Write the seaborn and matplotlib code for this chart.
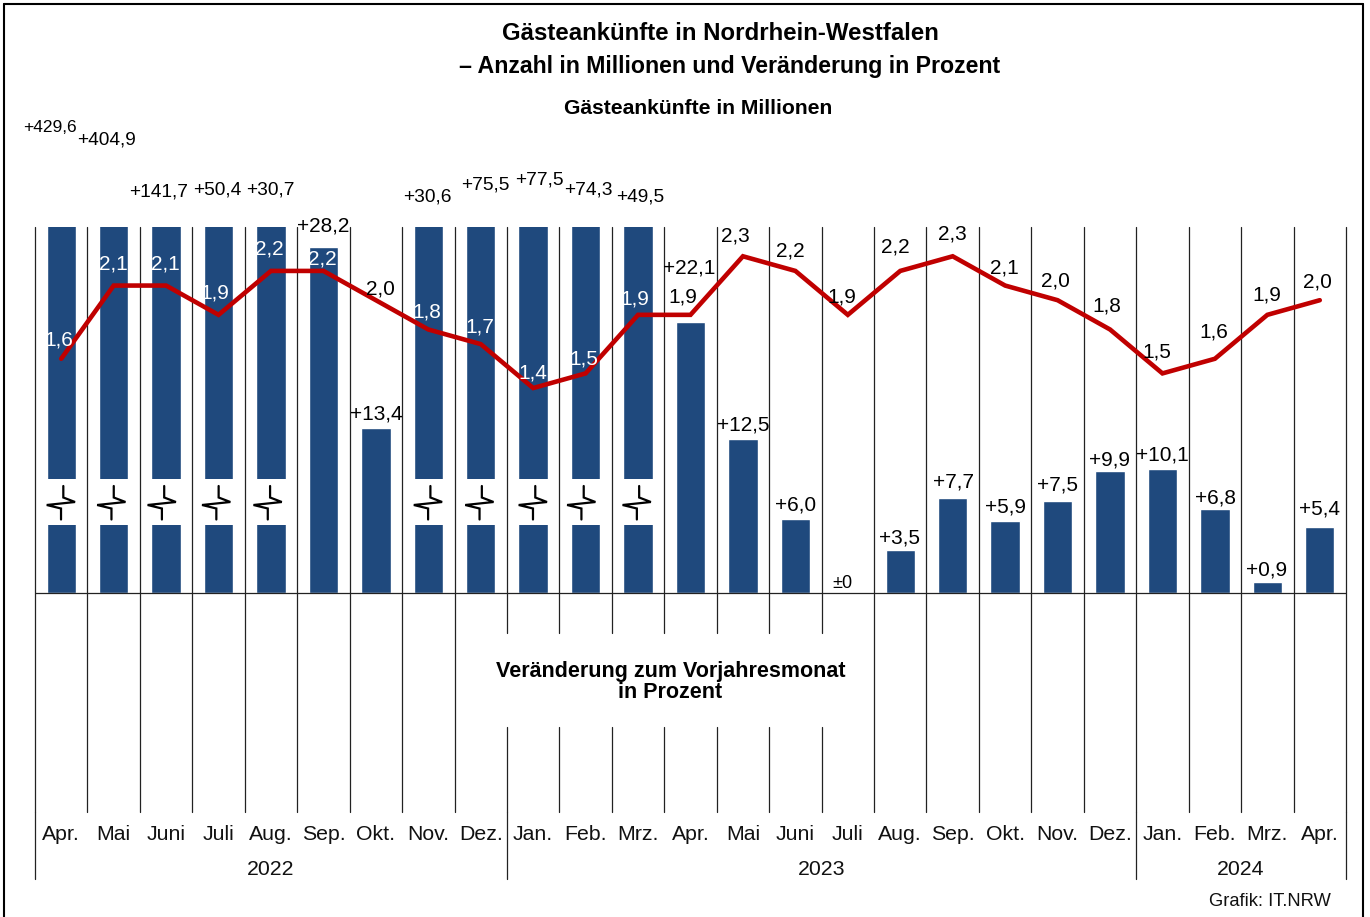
import numpy as np
import pandas as pd
import matplotlib
matplotlib.use("Agg")
import matplotlib.pyplot as plt
from matplotlib.lines import Line2D
from matplotlib.patches import Rectangle
import seaborn as sns

months = ["Apr.", "Mai", "Juni", "Juli", "Aug.", "Sep.", "Okt.", "Nov.", "Dez.",
          "Jan.", "Feb.", "Mrz.", "Apr.", "Mai", "Juni", "Juli", "Aug.", "Sep.",
          "Okt.", "Nov.", "Dez.", "Jan.", "Feb.", "Mrz.", "Apr."]
change_pct = [429.6, 404.9, 141.7, 50.4, 30.7, 28.2, 13.4, 30.6, 75.5, 77.5, 74.3, 49.5,
              22.1, 12.5, 6.0, 0.0, 3.5, 7.7, 5.9, 7.5, 9.9, 10.1, 6.8, 0.9, 5.4]
guests_mio = [1.6, 2.1, 2.1, 1.9, 2.2, 2.2, 2.0, 1.8, 1.7, 1.4, 1.5, 1.9,
              1.9, 2.3, 2.2, 1.9, 2.2, 2.3, 2.1, 2.0, 1.8, 1.5, 1.6, 1.9, 2.0]
years = ["2022", "2023", "2024"]
year_centers = [4, 14.5, 22.5]

# layout (pixels in the 1370x917 picture)
W, H = 1370, 917
AX_L, AX_R, AX_T, AX_B = 35, 1346, 227, 812
PCT_TOP, MIO_TOP = 29.8, 2.5
ZERO_PX = 593
PCT_PX = (ZERO_PX - AX_T) / PCT_TOP
bar_lab_x = [49.5, 106, 159, 217, 270, 323, 376, 427, 485, 539, 588, 640, 689, 743, 796, 842,
             900, 953, 1005, 1057, 1110, 1162, 1215, 1267, 1320]
bar_lab_y = [126, 138, 190, 188, 188, 224, 412, 195, 183, 178, 188, 195, 266, 423, 503, 581,
             536, 480, 505, 483, 458, 453, 496, 568, 507]
line_lab_x = [59, 113, 165, 215, 269, 322, 380, 427, 480, 533, 584, 635, 683, 735, 790, 842,
              895, 952, 1004, 1055, 1107, 1157, 1214, 1267, 1317]
line_lab_y = [338, 262, 262, 291, 247, 257, 287, 310, 325, 371, 357, 297, 295, 234, 249, 295,
              245, 232, 266, 279, 304, 350, 330, 293, 280]
white_labels = {0, 1, 2, 3, 4, 5, 7, 8, 9, 10, 11}
broken = [0, 1, 2, 3, 4, 7, 8, 9, 10, 11]
sym_shift = [0, -2, -4, -2, -3, 0, -1, 0, -4, -1]
narrow_labels = {1, 2, 3, 4, 7, 8, 9, 10, 11}
long_lines = [-0.5, 8.5, 20.5, 24.5]
gap_lines = [8.5, 9.5, 10.5, 11.5, 12.5, 13.5, 14.5]

NAVY, RED, INK, RULE = "#1F497D", "#C00000", "#111111", "#222222"
sns.set_style("white")
plt.rcParams["font.family"] = ["Liberation Sans", "DejaVu Sans"]

pos = np.arange(len(months))
df = pd.DataFrame({"pos": pos, "pct": change_pct, "mio": guests_mio})

fig = plt.figure(figsize=(W / 100, H / 100), dpi=100, facecolor="white")
ax = fig.add_axes([AX_L / W, 1 - AX_B / H, (AX_R - AX_L) / W, (AX_B - AX_T) / H])
ymin = -(AX_B - ZERO_PX) / PCT_PX
sns.barplot(data=df, x="pos", y="pct", native_scale=True, width=0.56, color=NAVY,
            saturation=1, ax=ax, zorder=2)
ax.set_xlim(-0.5, 24.5)
ax.set_ylim(ymin, PCT_TOP)
ax.set_xlabel("")
ax.set_ylabel("")
ax.set_yticks([])
ax.set_xticks(pos, months, fontsize=15.3, color=INK)
ax.tick_params(axis="x", length=0, pad=9)
sns.despine(ax=ax, left=True, bottom=True)

# month separators, interrupted around the inner caption
seg_top, seg_bot = (ZERO_PX - 633) / PCT_PX, (ZERO_PX - 727) / PCT_PX
rule = dict(color=RULE, lw=0.9, zorder=1, clip_on=False)
for x in np.arange(-0.5, 25, 1):
    if x in gap_lines:
        ax.plot([x, x], [PCT_TOP, seg_top], **rule)
        ax.plot([x, x], [seg_bot, ymin], **rule)
    else:
        ax.plot([x, x], [PCT_TOP, ymin], **rule)
ax.axhline(0, color=RULE, lw=0.9, zorder=3)

# year separators reaching below the axis
ybot = -(879 - ZERO_PX) / PCT_PX
for x in long_lines:
    ax.plot([x, x], [ymin, ybot], **rule)

# axis-break symbols
ux, uy = 1 / ((AX_R - AX_L) / 25), 1 / PCT_PX
zx = np.array([2.1, 2.1, 13.8, -14.5, -0.2, -0.2])
zy = np.array([-16, -4.5, 0, 3, 6.5, 17.5])
yc = (ZERO_PX - 502) / PCT_PX
for i, s in zip(broken, sym_shift):
    ax.add_patch(Rectangle((i - 15.5 * ux, (ZERO_PX - 525) / PCT_PX), 31 * ux, 46 * uy,
                           fc="white", ec="none", zorder=4))
    ax.plot(i + (zx + s) * ux, yc - zy * uy, color="black", lw=1.6, zorder=5,
            solid_joinstyle="miter")

ax2 = ax.twinx()
sns.lineplot(data=df, x="pos", y="mio", color=RED, lw=3.3, ax=ax2, zorder=6,
             solid_joinstyle="miter")
ax2.set_ylim(ymin / (ZERO_PX - AX_T) * PCT_PX * MIO_TOP, MIO_TOP)
ax2.set_xlim(-0.5, 24.5)
ax2.set_yticks([])
ax2.set_ylabel("")
ax2.set_xlabel("")
sns.despine(ax=ax2, left=True, bottom=True, right=True)


def put(axis, txt, xy, px, py, **kw):
    axis.annotate(txt, xy=xy, xytext=(px, H - py), xycoords="data", textcoords="figure pixels",
                  ha="center", va="center_baseline", annotation_clip=False, **kw)


for i, v in enumerate(change_pct):
    txt = "±0" if v == 0 else f"{v:+.1f}".replace(".", ",")
    if i == 0:
        size = 12.5
    elif v == 0:
        size = 13
    elif i in narrow_labels:
        size = 13.8
    else:
        size = 15
    put(ax2, txt, (i, min(v, PCT_TOP) / PCT_TOP * MIO_TOP), bar_lab_x[i], bar_lab_y[i],
        fontsize=size, color="black", zorder=8)

for i, v in enumerate(guests_mio):
    put(ax2, f"{v:.1f}".replace(".", ","), (i, v), line_lab_x[i], line_lab_y[i], fontsize=15,
        color="white" if i in white_labels else "black", zorder=8)

for y, c in zip(years, year_centers):
    put(ax2, y, (c, 0), 35 + (c + 0.5) * (AX_R - AX_L) / 25, 867.5, fontsize=15.3, color=INK)

fig.text(720 / W, 1 - 33 / H, "Gästeankünfte in Nordrhein-Westfalen", ha="center", va="center",
         fontsize=17.3, fontweight="bold", color="black")
fig.text(730 / W, 1 - 66 / H, "– Anzahl in Millionen und Veränderung in Prozent", ha="center",
         va="center", fontsize=16.7, fontweight="bold", color="black")
fig.text(698 / W, 1 - 108 / H, "Gästeankünfte in Millionen", ha="center", va="center",
         fontsize=15.2, fontweight="bold", color="black")
fig.text(670.5 / W, 1 - 671 / H, "Veränderung zum Vorjahresmonat", ha="center", va="center",
         fontsize=15.5, fontweight="bold", color="black")
fig.text(670.5 / W, 1 - 692 / H, "in Prozent", ha="center", va="center",
         fontsize=15.5, fontweight="bold", color="black")
fig.text(1331 / W, 1 - 902 / H, "Grafik: IT.NRW", ha="right", va="center", fontsize=13.2, color=INK)

# outer frame, open at the bottom
for xs, ys in [([4, 4], [4, 917]), ([4, 1363], [4, 4]), ([1363, 1363], [4, 917])]:
    fig.add_artist(Line2D([a / W for a in xs], [1 - b / H for b in ys], color="black", lw=1.5))

fig.savefig("out.png", dpi=100, facecolor="white")
